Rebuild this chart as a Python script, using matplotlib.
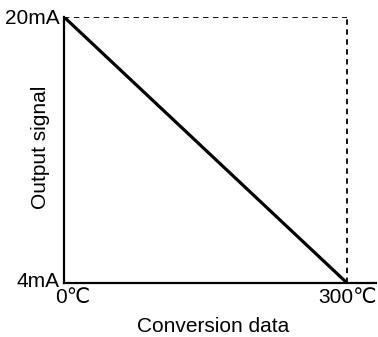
import matplotlib
matplotlib.use("Agg")
import matplotlib.pyplot as plt
from matplotlib.transforms import ScaledTranslation

plt.rcParams['font.family'] = ['Liberation Sans', 'DejaVu Sans']

# conversion data (deg C) vs output signal (mA)
temp = [0, 300]
signal = [20, 4]
x_ticks = [0, 300]
x_labels = ["0\u2103", "300\u2103"]
y_ticks = [4, 20]
y_labels = ["4mA", "20mA"]

fig = plt.figure(figsize=(3.78, 3.37), dpi=100)
ax = fig.add_axes([0.169, 0.160, 0.826, 0.790])

ax.plot(temp, signal, color='black', lw=2.3, solid_capstyle='butt')
# dashed guide lines
ax.plot([0, 300], [20, 20], color='black', lw=1.3, ls=(0, (3, 2.5)))
ax.plot([300, 300], [4, 20], color='black', lw=1.3, ls=(0, (3, 2.5)))

ax.set_xlim(0, 330.7)
ax.set_ylim(4, 20)
for s in ['top', 'right']:
    ax.spines[s].set_visible(False)
for s in ['left', 'bottom']:
    ax.spines[s].set_linewidth(1.6)

ax.set_xticks(x_ticks)
ax.set_xticklabels(x_labels, fontsize=15)
ax.set_yticks(y_ticks)
ax.set_yticklabels(y_labels, fontsize=15)
ax.tick_params(length=0, pad=3.5)
ax.tick_params(axis='y', pad=3)

# the first x label sits a little to the right of the axis corner
lab0 = ax.get_xticklabels()[0]
lab0.set_transform(lab0.get_transform() + ScaledTranslation(0.09, 0, fig.dpi_scale_trans))
# lower y label slightly above the axis
laby = ax.get_yticklabels()[0]
laby.set_transform(laby.get_transform() + ScaledTranslation(0, 0.04, fig.dpi_scale_trans))

ax.set_xlabel("Conversion data", fontsize=15)
ax.set_ylabel("Output signal", fontsize=15)
ax.xaxis.set_label_coords(0.4776, -0.128)
ax.yaxis.set_label_coords(-0.045, 0.51)

fig.savefig("out.png", dpi=100)
